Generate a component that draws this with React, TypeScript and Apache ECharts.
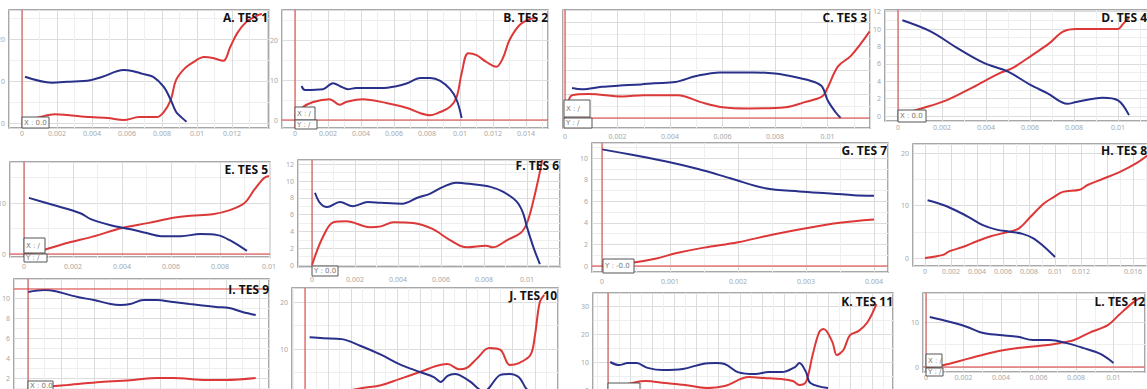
import React, { useEffect, useRef } from "react";
import * as echarts from "echarts";

const BLUE = "#29308a";
const RED = "#dc3838";

// ---------- data (x, y) ----------
const tes1Blue = [[0.00017,11.0],[0.0017,9.6],[0.0026,9.8],[0.0039,10.2],[0.0046,11],[0.0058,12.6],[0.0063,12.4],[0.0069,11.7],[0.0075,11],[0.0081,8.6],[0.0085,5.5],[0.0088,2.7],[0.0091,1.4],[0.0094,0.3]];
const tes1Red = [[0,0.3],[0.001,1.4],[0.0019,2.1],[0.0026,1.9],[0.0039,1.4],[0.0049,1.2],[0.0058,0.7],[0.0067,1.4],[0.0077,1.4],[0.0081,2.6],[0.0085,5.5],[0.0088,10.2],[0.0093,13],[0.0098,14.5],[0.0104,15.7],[0.0109,15.5],[0.0115,14.8],[0.0119,18.1],[0.0123,21.4],[0.0128,24],[0.0134,25.5],[0.0137,26]];

const tes2Blue = [[0.0004,8.5],[0.0006,7.5],[0.0017,7.7],[0.0023,9.2],[0.0028,8.3],[0.0032,7.7],[0.0037,8],[0.0052,8],[0.0062,8.5],[0.0068,9.2],[0.0076,10.5],[0.0082,10.5],[0.0088,9.8],[0.0094,7.7],[0.0098,5],[0.0101,0.5]];
const tes2Red = [[0,0.8],[0.0004,3],[0.0011,4.5],[0.0021,5.2],[0.0027,3.8],[0.0031,4.5],[0.0041,5.2],[0.0056,4.2],[0.0068,3],[0.0076,1.7],[0.0082,1.2],[0.0088,2],[0.0094,3.3],[0.0098,5.8],[0.0101,11.7],[0.0105,16.7],[0.011,16.2],[0.0116,14.5],[0.0122,13.3],[0.0126,15.5],[0.013,20],[0.0136,23.7],[0.0142,25.2],[0.0147,25.5]];

const tes3Blue = [[0.00027,2.5],[0.00065,2.4],[0.0014,2.6],[0.0021,2.7],[0.0029,2.8],[0.0034,2.9],[0.0042,3.0],[0.005,3.5],[0.0059,3.8],[0.0065,3.8],[0.0072,3.8],[0.008,3.7],[0.0088,3.4],[0.0095,3.0],[0.0098,2.6],[0.01,1.5],[0.0103,0.5],[0.0105,0]];
const tes3Red = [[0.0001,1.1],[0.00027,1.9],[0.0009,2.0],[0.0022,1.8],[0.003,1.9],[0.0043,1.9],[0.0052,1.3],[0.006,0.9],[0.007,0.8],[0.0084,0.9],[0.0091,1.3],[0.0098,1.8],[0.01,2.5],[0.0104,4.3],[0.0109,5.2],[0.0116,7.2]];

const tes4Blue = [[0.0002,11],[0.0015,9.7],[0.0027,7.8],[0.0039,6.1],[0.005,5.1],[0.006,3.6],[0.0068,2.6],[0.0077,1.4],[0.0081,1.6],[0.0093,2.1],[0.01,1.8],[0.0105,0.1]];
const tes4Red = [[0.0001,0.2],[0.0011,0.9],[0.0022,1.8],[0.0034,3.3],[0.0046,4.9],[0.0052,5.5],[0.0061,7.0],[0.0069,8.4],[0.0075,9.7],[0.0081,10],[0.01,10],[0.0102,10.5],[0.0105,11.3]];

const tes5Blue = [[0.0002,11],[0.0012,9.6],[0.0023,8],[0.0027,6.9],[0.0035,5.7],[0.0043,4.9],[0.005,4.1],[0.0056,3.5],[0.0064,3.5],[0.0072,3.9],[0.0079,3.7],[0.0084,2.7],[0.0091,0.6]];
const tes5Red = [[0,0],[0.0008,0.8],[0.0018,2.2],[0.0028,3.4],[0.004,5.1],[0.0051,6.1],[0.0061,7.1],[0.0068,7.5],[0.0077,7.8],[0.0084,8.6],[0.009,10],[0.0094,12.6],[0.0098,14.9],[0.01,15.3]];

const tes6Blue = [[0.00014,8.6],[0.00037,7.4],[0.0007,6.9],[0.0013,7.5],[0.0019,7.0],[0.0026,7.5],[0.0032,7.4],[0.0042,7.3],[0.0049,8.0],[0.0055,8.5],[0.0061,9.3],[0.0067,9.8],[0.0075,9.6],[0.0083,9.3],[0.0089,8.7],[0.0095,7.6],[0.0098,6.3],[0.01,4.5],[0.0103,2.1],[0.0106,0.1]];
const tes6Red = [[0,0],[0.0005,3.3],[0.001,5.1],[0.0016,5.2],[0.0027,4.5],[0.0032,4.6],[0.0038,5.1],[0.0047,5.0],[0.0056,4.3],[0.0064,3.0],[0.0072,2.1],[0.0081,2.3],[0.0084,2.1],[0.0091,3.0],[0.0097,3.8],[0.01,5.0],[0.0103,7.7],[0.0106,11.1],[0.0107,12.5]];

const tes7Blue = [[0,10.8],[0.00044,10.3],[0.00093,9.7],[0.0014,9.0],[0.0019,8.1],[0.0024,7.2],[0.0029,6.9],[0.0034,6.7],[0.0037,6.55],[0.004,6.5]];
const tes7Red = [[0,0],[0.00044,0.3],[0.0008,0.7],[0.0011,1.2],[0.0015,1.7],[0.002,2.2],[0.0025,2.9],[0.003,3.5],[0.0035,4.0],[0.004,4.3]];

const tes8Blue = [[0.0002,11],[0.0014,10.1],[0.0025,8.9],[0.0035,7.6],[0.0045,6.2],[0.0055,5.4],[0.0065,5.0],[0.0075,4.6],[0.0083,3.8],[0.0091,2.3],[0.01,0.2]];
const tes8Red = [[0,0],[0.0014,0.6],[0.0019,1.3],[0.0029,2.1],[0.004,3.2],[0.005,4.1],[0.0063,4.9],[0.0072,5.6],[0.0081,7.8],[0.0091,10.3],[0.0099,11.6],[0.0106,12.6],[0.0119,13.0],[0.0125,13.9],[0.0137,15.1],[0.015,16.4],[0.0163,18.1],[0.0171,19.5]];

const tes9Blue = [[0,10.6],[0.0005,10.8],[0.0008,10.7],[0.0015,10.1],[0.002,9.8],[0.0025,9.4],[0.0028,9.3],[0.0031,9.4],[0.0035,9.8],[0.0039,9.8],[0.0044,9.6],[0.0049,9.4],[0.0057,9.1],[0.0061,9.0],[0.0065,8.6],[0.0069,8.3]];
const tes9Red = [[0,1.0],[0.0012,1.3],[0.0022,1.6],[0.0032,1.8],[0.0039,2.0],[0.0044,2.0],[0.0054,1.8],[0.006,1.8],[0.0069,2.0]];

const tes10Blue = [[0.0002,12.5],[0.0008,12.3],[0.0016,12.1],[0.0024,10.7],[0.0033,8.8],[0.0041,6.8],[0.005,5.1],[0.0056,4.0],[0.0059,3.0],[0.0062,4.3],[0.0065,4.7],[0.0067,4.5],[0.0072,3.0],[0.0075,1.7],[0.0078,0.8],[0.008,1.7],[0.0085,4.5],[0.0089,4.7],[0.0093,4.0],[0.0096,1.7],[0.0099,0.3]];
const tes10Red = [[0.0002,0.2],[0.0015,0.8],[0.0025,1.7],[0.0033,2.3],[0.0041,3.6],[0.005,5.1],[0.0057,6.4],[0.0062,6.8],[0.0067,5.7],[0.007,5.9],[0.0075,8.1],[0.008,10.2],[0.0085,9.8],[0.0089,6.6],[0.0093,7.0],[0.0098,8.7],[0.01,13],[0.0102,19.8],[0.0104,21.5]];

const tes11Blue = [[0.0001,10],[0.0005,8.9],[0.0009,9.6],[0.0013,9.6],[0.0018,7.9],[0.0025,7.1],[0.0034,7.5],[0.0043,9.3],[0.0049,9.6],[0.0053,9.3],[0.0059,6.4],[0.0067,5.7],[0.0073,6.4],[0.0079,6.4],[0.0085,8.2],[0.0087,9.6],[0.009,6.4],[0.0092,2.5],[0.01,0.7]];
const tes11Red = [[0.0001,0.7],[0.0011,2.5],[0.0017,3.2],[0.0026,2.5],[0.0035,1.8],[0.0045,0.7],[0.0053,1.4],[0.0064,4.6],[0.0071,4.3],[0.0079,3.9],[0.0084,3.2],[0.0087,1.8],[0.009,2.9],[0.0093,12.5],[0.0096,20.7],[0.0098,21.8],[0.0102,17.1],[0.0104,12.5],[0.0107,14.3],[0.011,19.6],[0.0114,21.1],[0.0118,24.3],[0.0122,30.7]];

const tes12Blue = [[0.0002,11.1],[0.0013,10],[0.0022,8.9],[0.003,7.6],[0.0039,7.1],[0.0049,6.7],[0.0057,6.0],[0.0066,6.0],[0.0075,5.3],[0.0084,4.2],[0.0093,2.9],[0.01,0.9]];
const tes12Red = [[0,0],[0.0009,0.4],[0.0022,1.8],[0.0036,3.3],[0.0049,4.2],[0.0061,4.7],[0.0071,5.3],[0.0079,6.0],[0.0087,7.6],[0.0097,9.3],[0.0103,11.6],[0.011,14.2],[0.0114,15.3]];

const titles = ["A. TES 1","B. TES 2","C. TES 3","D. TES 4","E. TES 5","F. TES 6","G. TES 7","H. TES 8","I. TES 9","J. TES 10","K. TES 11","L. TES 12"];
const blues = [tes1Blue,tes2Blue,tes3Blue,tes4Blue,tes5Blue,tes6Blue,tes7Blue,tes8Blue,tes9Blue,tes10Blue,tes11Blue,tes12Blue];
const reds = [tes1Red,tes2Red,tes3Red,tes4Red,tes5Red,tes6Red,tes7Red,tes8Red,tes9Red,tes10Red,tes11Red,tes12Red];
const xIntervals = [0.002,0.002,0.002,0.002,0.002,0.002,0.001,0.002,0.001,0.001,0.001,0.002];
const yIntervals = [10,10,2,2,10,2,2,10,2,10,10,10];
// x tick labels that the original screenshots do not show
const hiddenXLabels = [[0.014],[],[],[],[],[],[],[0.014],[],[],[],[]];
// cursor cross-hair position (x value, y value or null)
const crossX = [0,0,0,0,0,0,0,null,0,0,0,0];
const crossY = [null,0,0,null,0,null,0,null,10.9,null,null,0];

// ---------- layout (pixel geometry of each screenshot panel) ----------
type Geo = { box: number[]; x0: number; xs: number; y0: number; ys: number; showX: boolean; showY: boolean; xm: number; tp: number[] };
const geos: Geo[] = [
  { box: [9, 10, 269, 128], x0: 22, xs: 17500, y0: 123, ys: 4.2, showX: true, showY: true, xm: 2, tp: [268, 17] },
  { box: [282, 10, 548, 128], x0: 295, xs: 16500, y0: 120, ys: 4.0, showX: true, showY: true, xm: 2, tp: [548, 17] },
  { box: [563, 10, 870, 128], x0: 565, xs: 26250, y0: 118, ys: 12, showX: true, showY: false, xm: 5, tp: [867, 17] },
  { box: [885, 10, 1160, 121], x0: 898, xs: 22000, y0: 116, ys: 8.7, showX: true, showY: true, xm: 3, tp: [1147, 17] },
  { box: [10, 162, 270, 257], x0: 24, xs: 24500, y0: 254, ys: 5.1, showX: true, showY: true, xm: 6, tp: [268, 169] },
  { box: [298, 160, 560, 267], x0: 312, xs: 21500, y0: 265, ys: 8.4, showX: true, showY: true, xm: 9, tp: [559, 165] },
  { box: [592, 143, 888, 272], x0: 602, xs: 68000, y0: 266, ys: 10.8, showX: true, showY: true, xm: 6, tp: [887, 150] },
  { box: [913, 144, 1160, 266], x0: 925, xs: 13000, y0: 258, ys: 5.25, showX: true, showY: true, xm: 2, tp: [1147, 150] },
  { box: [14, 279, 269, 405], x0: 28, xs: 33000, y0: 398, ys: 10, showX: false, showY: true, xm: 3, tp: [269, 289] },
  { box: [292, 288, 558, 405], x0: 305, xs: 23000, y0: 396, ys: 4.7, showX: false, showY: true, xm: 3, tp: [557, 295] },
  { box: [593, 293, 893, 405], x0: 608, xs: 22000, y0: 390, ys: 2.8, showX: false, showY: true, xm: 3, tp: [893, 301] },
  { box: [923, 293, 1145, 372], x0: 926, xs: 18750, y0: 367, ys: 4.5, showX: true, showY: true, xm: 2, tp: [1145, 301] },
];

// little cursor read-out boxes: [x, y, w, h, text]
const readouts: (string | number)[][] = [
  [22, 117, 27, 11, "X : 0.0"],
  [295, 107, 20, 13, "X : /"], [295, 120, 22, 9, "Y : /"],
  [564, 100, 26, 17, "X : /"], [564, 118, 28, 10, "Y : /"],
  [898, 110, 28, 12, "X : 0.0"],
  [24, 238, 21, 15, "X : /"], [24, 254, 23, 8, "Y : /"],
  [312, 266, 26, 10, "Y : 0.0"],
  [603, 259, 31, 14, "Y : -0.0"],
  [28, 381, 25, 10, "X : 0.0"],
  [608, 383, 32, 8, ""],
  [926, 354, 16, 13, "X : /"], [926, 368, 17, 8, "Y : /"],
];

function buildOption() {
  const grid: any[] = [];
  const xAxis: any[] = [];
  const yAxis: any[] = [];
  const series: any[] = [];
  const lbl = { fontSize: 7, color: "#a8a8a8", fontFamily: "Noto Sans" };
  geos.forEach((g, i) => {
    const [l, t, r, b] = g.box;
    grid.push({
      left: l, top: t, width: r - l, height: b - t, show: true,
      borderColor: "#8c8c8c", borderWidth: 1.5, backgroundColor: "#fff",
      containLabel: false, outerBoundsMode: "none",
    });
    const xi = xIntervals[i];
    const yi = yIntervals[i];
    const hide = hiddenXLabels[i] as number[];
    xAxis.push({
      type: "value", gridIndex: i,
      min: -(g.x0 - l) / g.xs, max: (r - g.x0) / g.xs,
      minInterval: xi, maxInterval: xi, splitNumber: 6,
      axisLine: { show: false, onZero: false }, axisTick: { show: false },
      axisLabel: {
        show: g.showX, ...lbl, margin: g.xm, showMinLabel: false, showMaxLabel: false,
        formatter: (v: number) => (hide.some((h) => Math.abs(h - v) < 1e-9) ? "" : String(+v.toFixed(4))),
      },
      splitLine: { show: true, lineStyle: { color: "#dcdcdc", width: 1 } },
      minorTick: { show: false, splitNumber: 2 },
      minorSplitLine: { show: true, lineStyle: { color: "#efefef", width: 1 } },
    });
    yAxis.push({
      type: "value", gridIndex: i,
      min: -(b - g.y0) / g.ys, max: (g.y0 - t) / g.ys,
      minInterval: yi, maxInterval: yi, splitNumber: 6,
      axisLine: { show: false, onZero: false }, axisTick: { show: false },
      axisLabel: { show: g.showY, ...lbl, margin: 4, showMinLabel: false, showMaxLabel: false },
      splitLine: { show: true, lineStyle: { color: "#dcdcdc", width: 1 } },
      minorTick: { show: false, splitNumber: 2 },
      minorSplitLine: { show: true, lineStyle: { color: "#efefef", width: 1 } },
    });
    series.push({
      type: "line", xAxisIndex: i, yAxisIndex: i, data: reds[i], showSymbol: false, symbol: "none",
      smooth: 0.35, lineStyle: { color: RED, width: 2 }, z: 3,
    });
    series.push({
      type: "line", xAxisIndex: i, yAxisIndex: i, data: blues[i], showSymbol: false, symbol: "none",
      smooth: 0.35, lineStyle: { color: BLUE, width: 2 }, z: 4,
    });
  });
  return { animation: false, backgroundColor: "#fff", grid, xAxis, yAxis, series };
}

function buildGraphics(chart: any) {
  const graphic: any[] = [];
  geos.forEach((g, i) => {
    const [l, t, r, b] = g.box;
    const cx = crossX[i];
    const cy = crossY[i];
    if (cx !== null) {
      const p = chart.convertToPixel({ gridIndex: i }, [cx, 0]);
      graphic.push({ type: "line", z: 50, shape: { x1: p[0], y1: t, x2: p[0], y2: b }, style: { stroke: RED, lineWidth: 1 } });
    }
    if (cy !== null) {
      const p = chart.convertToPixel({ gridIndex: i }, [0, cy]);
      graphic.push({ type: "line", z: 50, shape: { x1: l, y1: p[1], x2: r, y2: p[1] }, style: { stroke: RED, lineWidth: 1 } });
    }
    graphic.push({
      type: "text", x: g.tp[0], y: g.tp[1], z: 100,
      style: { text: titles[i], align: "right", verticalAlign: "middle", font: 'bold 12px "Open Sans"', fill: "#111" },
    });
  });
  readouts.forEach((ro) => {
    const [x, y, w, h, txt] = ro as [number, number, number, number, string];
    graphic.push({ type: "rect", shape: { x, y, width: w, height: h }, z: 90, style: { fill: "#fff", stroke: "#555", lineWidth: 1 } });
    if (txt) graphic.push({ type: "text", x: x + 2, y: y + h / 2, z: 91, style: { text: txt, font: '7px "DejaVu Sans"', fill: "#777", verticalAlign: "middle" } });
  });
  return graphic;
}

export default function App() {
  const ref = useRef<HTMLDivElement>(null);
  useEffect(() => {
    document.body.style.margin = "0";
    const chart = echarts.init(ref.current!, null, { renderer: "svg" });
    chart.setOption(buildOption());
    chart.setOption({ graphic: buildGraphics(chart) });
    return () => chart.dispose();
  }, []);
  return <div ref={ref} style={{ width: 1147, height: 389, overflow: "hidden" }} />;
}
